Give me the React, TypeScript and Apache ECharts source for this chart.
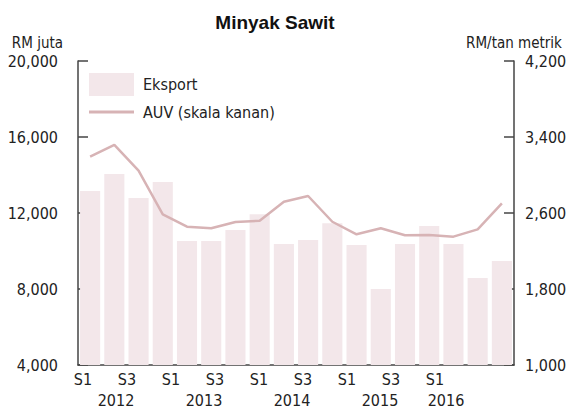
import React, { useEffect, useRef } from "react";
import * as echarts from "echarts";

const categories = [
  "2012 S1", "2012 S2", "2012 S3", "2012 S4",
  "2013 S1", "2013 S2", "2013 S3", "2013 S4",
  "2014 S1", "2014 S2", "2014 S3", "2014 S4",
  "2015 S1", "2015 S2", "2015 S3", "2015 S4",
  "2016 S1", "2016 S2",
];
const eksport = [13160, 14050, 12790, 13630, 10530, 10530, 11100, 11930, 10370, 10580, 11460, 10320, 8000, 10370, 11320, 10370, 8580, 9470];
const auv = [3193, 3316, 3045, 2586, 2456, 2439, 2505, 2519, 2719, 2779, 2508, 2376, 2439, 2365, 2368, 2351, 2428, 2702];
const semesterLabels = ["S1", "", "S3", "", "S1", "", "S3", "", "S1", "", "S3", "", "S1", "", "S3", "", "S1", ""];
const yearLabels = ["", "2012", "", "", "", "2013", "", "", "", "2014", "", "", "", "2015", "", "", "2016", ""];
const leftTicks = { min: 4000, max: 20000, interval: 4000 };
const rightTicks = { min: 1000, max: 4200, interval: 800 };

const FONT = "'DejaVu Sans Condensed', 'Liberation Sans Narrow', 'Arial Narrow', sans-serif";
const BAR_COLOR = "#f3e7ea";
const LINE_COLOR = "#d7b3b5";
const AXIS_COLOR = "#444";
const TEXT_COLOR = "#222";

export default function App() {
  const ref = useRef<HTMLDivElement>(null);
  useEffect(() => {
    if (!ref.current) return;
    const chart = echarts.init(ref.current, undefined, { renderer: "svg" });
    const fmt = (v: number) => v.toLocaleString("en-US");
    chart.setOption({
      animation: false,
      textStyle: { fontFamily: FONT, color: TEXT_COLOR },
      title: {
        text: "Minyak Sawit",
        left: 270,
        textAlign: "center",
        top: 8,
        textStyle: { fontFamily: "'Liberation Sans', Arial, sans-serif", fontWeight: "bold", fontSize: 19, color: "#111" },
      },
      legend: [
        {
          data: [{ name: "Eksport", icon: "rect" }],
          left: 89, top: 73, padding: 0,
          itemWidth: 45, itemHeight: 23,
          textStyle: { fontFamily: FONT, fontSize: 16, color: TEXT_COLOR, padding: [0, 0, 0, 4] },
        },
        {
          data: [{ name: "AUV (skala kanan)", icon: "rect", itemStyle: { color: LINE_COLOR } }],
          left: 89, top: 104, padding: 0,
          itemWidth: 45, itemHeight: 3,
          textStyle: { fontFamily: FONT, fontSize: 16, color: TEXT_COLOR, padding: [0, 0, 0, 4] },
        },
      ],
      grid: [
        { left: 78, right: 61, top: 61, bottom: 43 },
        { left: 72, width: 396, top: 61, bottom: 43 },
        { left: 83, width: 396, top: 61, bottom: 43 },
      ],
      xAxis: [
        {
          type: "category", gridIndex: 0, data: categories,
          axisLine: { lineStyle: { color: AXIS_COLOR, width: 1.5 } },
          axisTick: { show: false }, axisLabel: { show: false },
        },
        {
          type: "category", gridIndex: 1, data: semesterLabels,
          axisLine: { show: false }, axisTick: { show: false },
          axisLabel: { interval: 0, margin: 6, fontFamily: FONT, fontSize: 16, color: TEXT_COLOR },
        },
        {
          type: "category", gridIndex: 2, data: yearLabels,
          axisLine: { show: false }, axisTick: { show: false },
          axisLabel: { interval: 0, margin: 27, fontFamily: FONT, fontSize: 16, color: TEXT_COLOR },
        },
      ],
      yAxis: [
        {
          type: "value", gridIndex: 0, position: "left",
          ...leftTicks,
          name: "RM juta", nameLocation: "end", nameGap: 11,
          nameTextStyle: { fontFamily: FONT, fontSize: 15, color: TEXT_COLOR, align: "right", padding: [0, 15, 0, 0] },
          axisLine: { show: true, lineStyle: { color: AXIS_COLOR, width: 1.5 } },
          axisTick: { show: true, inside: true, length: 10, lineStyle: { color: AXIS_COLOR, width: 1.5 } },
          axisLabel: { margin: 20, formatter: fmt, fontFamily: FONT, fontSize: 16, color: TEXT_COLOR },
          splitLine: { show: false },
        },
        {
          type: "value", gridIndex: 0, position: "right",
          ...rightTicks,
          name: "RM/tan metrik", nameLocation: "end", nameGap: 11,
          nameTextStyle: { fontFamily: FONT, fontSize: 15, color: TEXT_COLOR, align: "center" },
          axisLine: { show: true, lineStyle: { color: AXIS_COLOR, width: 1.5 } },
          axisTick: { show: true, inside: true, length: 10, lineStyle: { color: AXIS_COLOR, width: 1.5 } },
          axisLabel: { margin: 11, formatter: fmt, fontFamily: FONT, fontSize: 16, color: TEXT_COLOR },
          splitLine: { show: false },
        },
        { type: "value", gridIndex: 1, show: false },
        { type: "value", gridIndex: 2, show: false },
      ],
      series: [
        {
          name: "Eksport", type: "bar", xAxisIndex: 0, yAxisIndex: 0,
          data: eksport, barCategoryGap: "17%",
          itemStyle: { color: BAR_COLOR },
        },
        {
          name: "AUV (skala kanan)", type: "line", xAxisIndex: 0, yAxisIndex: 1,
          data: auv, symbol: "none",
          lineStyle: { color: LINE_COLOR, width: 2.5 },
          itemStyle: { color: LINE_COLOR },
        },
      ],
    });
    return () => chart.dispose();
  }, []);
  return <div ref={ref} style={{ position: "fixed", left: 0, top: 0, width: 575, height: 408, background: "#fff" }} />;
}
